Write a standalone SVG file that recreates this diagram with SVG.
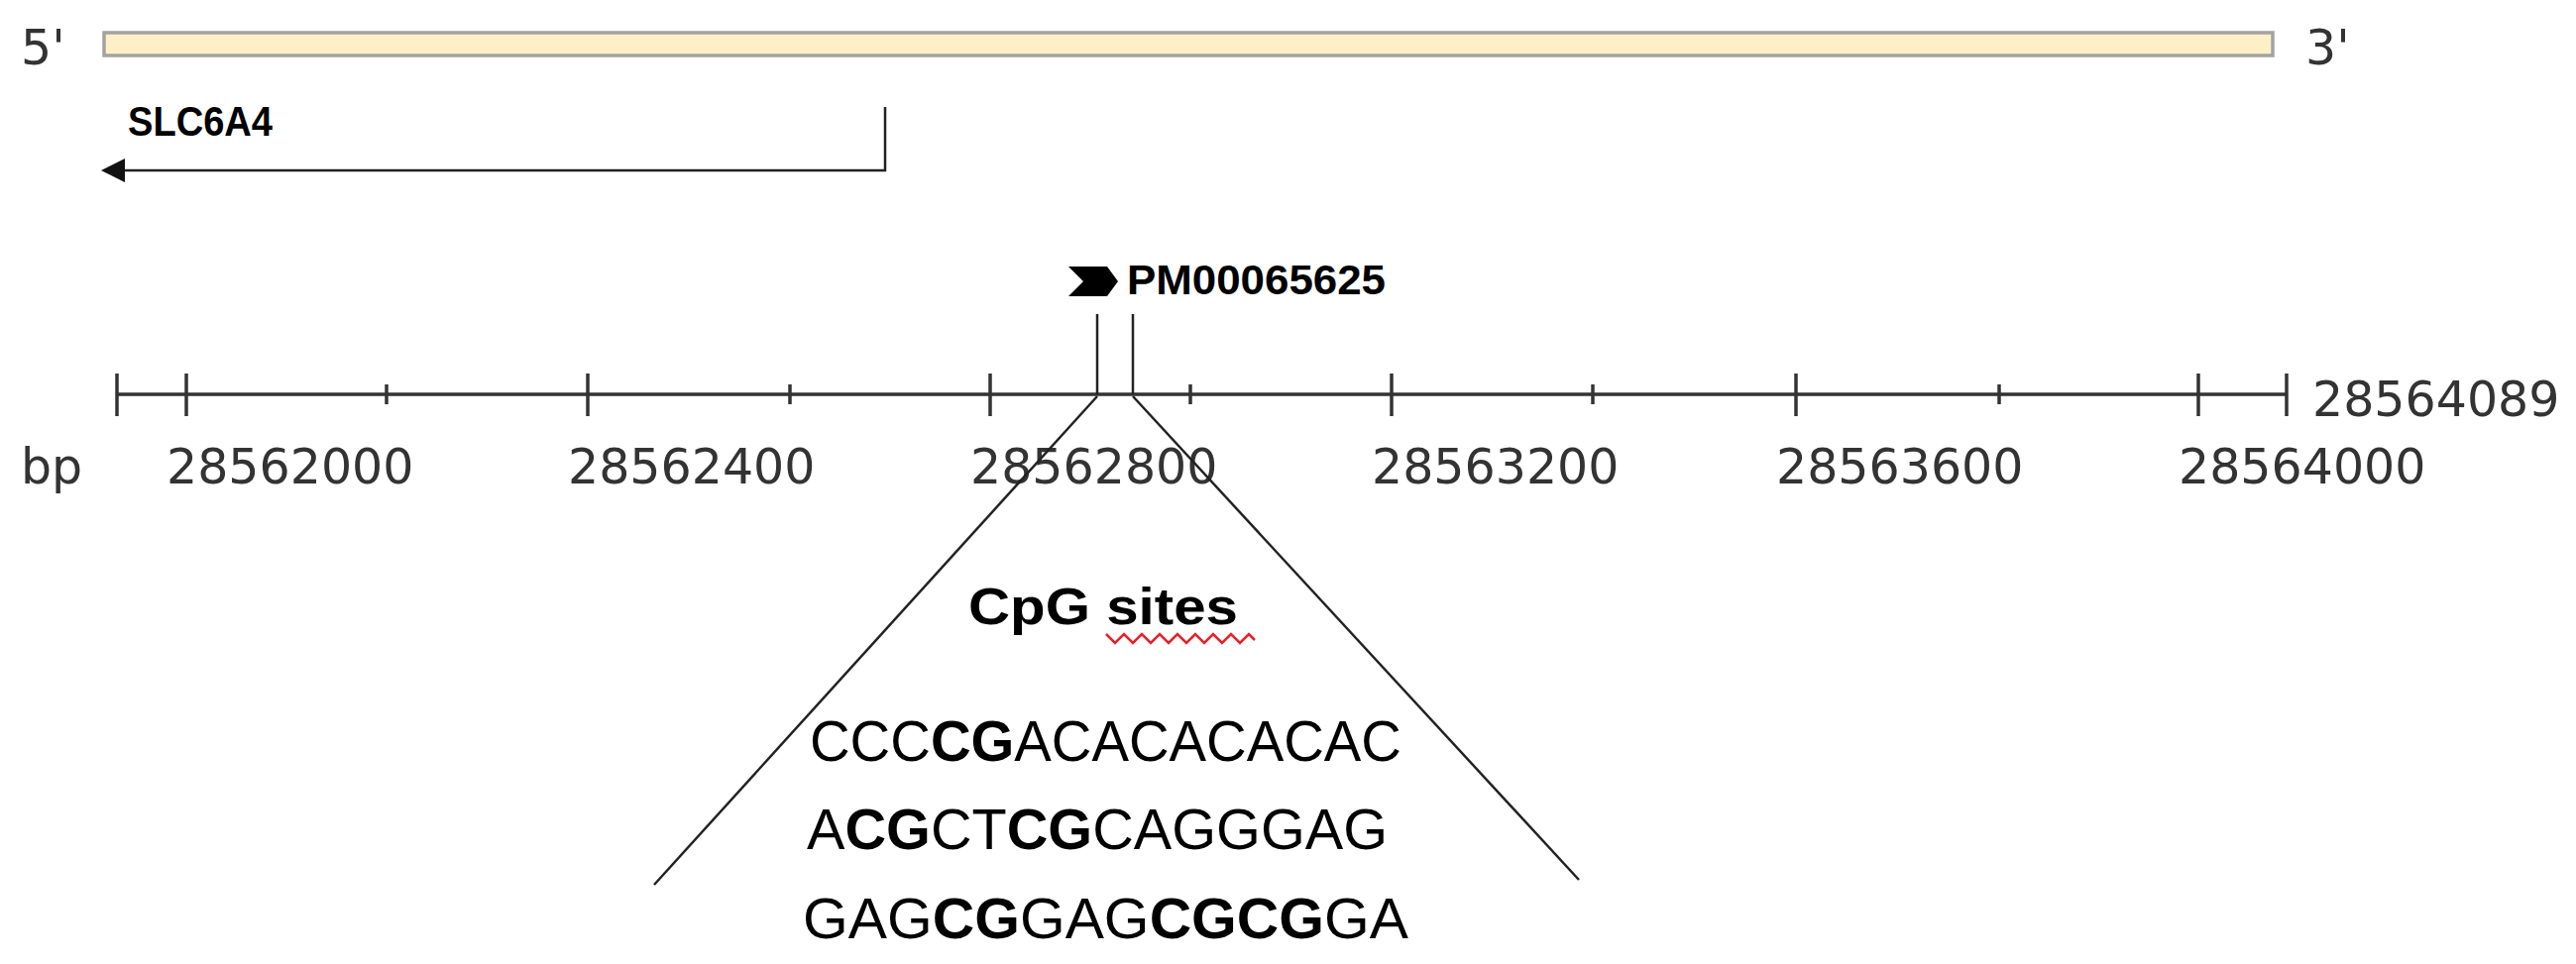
<svg xmlns="http://www.w3.org/2000/svg" width="2599" height="973" viewBox="0 0 2599 973">
<style>
.lbl{font-family:"DejaVu Sans",sans-serif;font-size:49px;fill:#333}
.bold{font-family:"Liberation Sans",Arial,sans-serif;font-weight:bold;fill:#000}
.seq{font-family:"Liberation Sans",Arial,sans-serif;font-size:57px;fill:#000}
.seq .b{font-weight:bold}
.ax{stroke:#333;stroke-width:3.5;fill:none}
.ln{stroke:#222;stroke-width:2.5;fill:none}
</style>
<defs>
<marker id="ah" markerWidth="10" markerHeight="10" refX="1" refY="5" orient="auto" markerUnits="userSpaceOnUse" viewBox="0 0 10 10">
<path d="M0,5 L10,0 L10,10 Z" fill="#111"/>
</marker>
</defs>
<rect width="2599" height="973" fill="#fff"/>

<g id="chromosome">
<text class="lbl" x="21" y="65">5'</text>
<rect x="105" y="33" width="2188" height="23" fill="#FEF0C6" stroke="#A3A3A3" stroke-width="3.5"/>
<text class="lbl" x="2326" y="65">3'</text>
</g>

<g id="gene-SLC6A4">
<text class="bold" x="129" y="137" font-size="43" textLength="146" lengthAdjust="spacingAndGlyphs">SLC6A4</text>
<polyline class="ln" points="893,108 893,172 124,172"/>
<path d="M102,172 L126,160 L126,184 Z" fill="#111"/>
</g>

<g id="promoter">
<path d="M1078,269 L1117,269 L1128,284 L1117,299 L1078,299 L1093,284 Z" fill="#000"/>
<text class="bold" x="1137" y="297" font-size="43" textLength="261" lengthAdjust="spacingAndGlyphs">PM00065625</text>
</g>

<g id="axis">
<line class="ax" x1="118" y1="398" x2="2307" y2="398"/>
<g class="ax">
<line x1="118" y1="377" x2="118" y2="420"/>
<line x1="188" y1="377" x2="188" y2="420"/>
<line x1="593" y1="377" x2="593" y2="420"/>
<line x1="999" y1="377" x2="999" y2="420"/>
<line x1="1404" y1="377" x2="1404" y2="420"/>
<line x1="1812" y1="377" x2="1812" y2="420"/>
<line x1="2218" y1="377" x2="2218" y2="420"/>
<line x1="2307" y1="377" x2="2307" y2="420"/>
<line x1="390" y1="388" x2="390" y2="408"/>
<line x1="797" y1="388" x2="797" y2="408"/>
<line x1="1201" y1="388" x2="1201" y2="408"/>
<line x1="1607" y1="388" x2="1607" y2="408"/>
<line x1="2017" y1="388" x2="2017" y2="408"/>
</g>
<text class="lbl" x="2333" y="420">28564089</text>
<text class="lbl" x="21" y="488">bp</text>
<text class="lbl" x="168" y="488">28562000</text>
<text class="lbl" x="573" y="488">28562400</text>
<text class="lbl" x="979" y="488">28562800</text>
<text class="lbl" x="1384" y="488">28563200</text>
<text class="lbl" x="1792" y="488">28563600</text>
<text class="lbl" x="2198" y="488">28564000</text>
</g>

<g id="connectors">
<line class="ln" x1="1107" y1="317" x2="1107" y2="398"/>
<line class="ln" x1="1143" y1="317" x2="1143" y2="398"/>
<line class="ln" stroke-width="2" x1="1107" y1="400" x2="660" y2="893"/>
<line class="ln" stroke-width="2" x1="1143" y1="400" x2="1593" y2="888"/>
</g>

<g id="cpg-sites">
<text class="bold" x="977" y="630" font-size="52" textLength="272" lengthAdjust="spacingAndGlyphs">CpG sites</text>
<polyline fill="none" stroke="#E8202A" stroke-width="2.5" points="1116,640 1125,649 1134,640 1143,649 1152,640 1161,649 1170,640 1179,649 1188,640 1197,649 1206,640 1215,649 1224,640 1233,649 1242,640 1251,649 1260,640 1266,646"/>
<text class="seq" x="817" y="768" textLength="597" lengthAdjust="spacingAndGlyphs">CCC<tspan class="b">CG</tspan>ACACACACAC</text>
<text class="seq" x="814" y="857" textLength="586" lengthAdjust="spacingAndGlyphs">A<tspan class="b">CG</tspan>CT<tspan class="b">CG</tspan>CAGGGAG</text>
<text class="seq" x="810" y="947" textLength="611" lengthAdjust="spacingAndGlyphs">GAG<tspan class="b">CG</tspan>GAG<tspan class="b">CGCG</tspan>GA</text>
</g>
</svg>
